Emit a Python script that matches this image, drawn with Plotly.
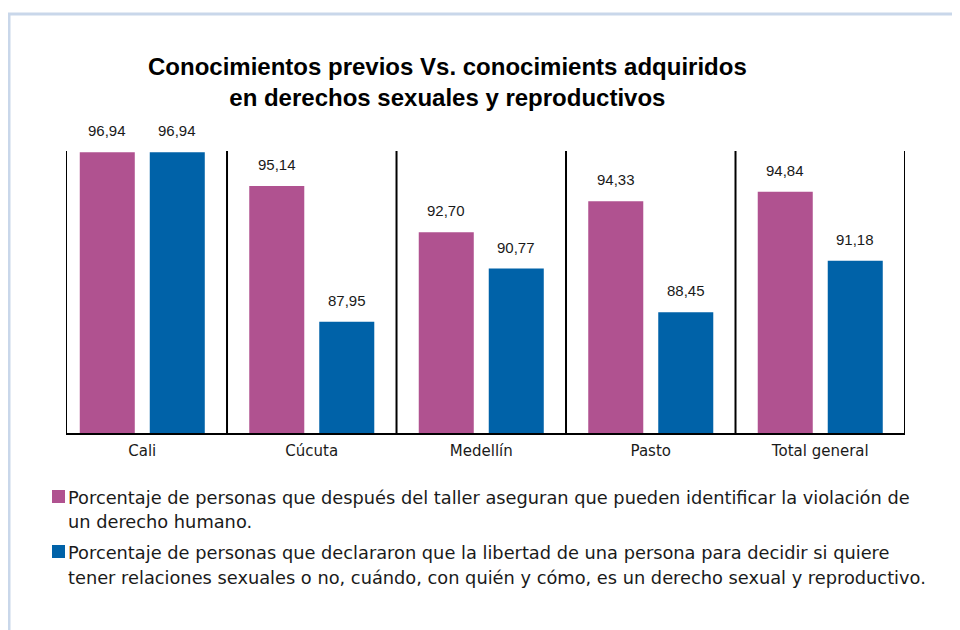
import plotly.graph_objects as go

categories = ["Cali", "Cúcuta", "Medellín", "Pasto", "Total general"]
series_names = [
    "Porcentaje de personas que después del taller aseguran que pueden identificar la violación de|un derecho humano.",
    "Porcentaje de personas que declararon que la libertad de una persona para decidir si quiere|tener relaciones sexuales o no, cuándo, con quién y cómo, es un derecho sexual y reproductivo.",
]
pink_values = [96.94, 95.14, 92.70, 94.33, 94.84]
blue_values = [96.94, 87.95, 90.77, 88.45, 91.18]
colors = ["#B05290", "#0062A8"]
title_text = "Conocimientos previos Vs. conocimients adquiridos<br>en derechos sexuales y reproductivos"

W, H = 960, 630
OFF = 8  # page body margin
L, R, T, B = 66 - OFF, 905 - OFF, 151 - OFF, 434 - OFF
BARGAP = 0.174
BARGROUPGAP = 0.214

LABEL = "Liberation Sans, Arial, sans-serif"
BODY = "DejaVu Sans, Verdana, sans-serif"
TITLE = "Liberation Sans, Arial, sans-serif"

xs = list(range(len(categories)))
fig = go.Figure()
for vals, col, nm in zip([pink_values, blue_values], colors, series_names):
    fig.add_trace(go.Bar(x=xs, y=vals, marker=dict(color=col, line=dict(width=0)),
                         name=nm.replace("|", " "), showlegend=False))

def px_x(p):
    return (p - OFF - L) / (R - L)

def px_y(p):
    return (B - (p - OFF)) / (B - T)

shapes = []
for k in range(len(categories) + 1):
    xv = -0.45 if k == 0 else k - 0.5
    shapes.append(dict(type="line", xref="x", yref="paper", x0=xv, x1=xv, y0=0, y1=1,
                       line=dict(color="black", width=2)))
shapes.append(dict(type="line", xref="paper", yref="paper", x0=0, x1=1, y0=0, y1=0,
                   line=dict(color="black", width=2)))
shapes.append(dict(type="rect", xref="paper", yref="paper",
                   x0=px_x(9), x1=px_x(985), y0=px_y(660), y1=px_y(14),
                   line=dict(color="#C9D7EA", width=3), fillcolor="rgba(0,0,0,0)", layer="below"))

annotations = []
slot = (1 - BARGAP) / 2
for si, vals in enumerate([pink_values, blue_values]):
    off = (si - 0.5) * slot
    for i, v in enumerate(vals):
        annotations.append(dict(x=i + off, y=v, xref="x", yref="y", yanchor="bottom",
                                text=f"{v:.2f}".replace(".", ","), showarrow=False,
                                yshift=11, font=dict(family=LABEL, size=15, color="#1a1a1a")))

legend_rows = [(497, 521), (552, 577)]
for (y1, y2), nm, col in zip(legend_rows, series_names, colors):
    line1, line2 = nm.split("|")
    shapes.append(dict(type="rect", xref="paper", yref="paper",
                       x0=px_x(52), x1=px_x(65), y0=px_y(y1 + 6), y1=px_y(y1 - 7),
                       fillcolor=col, line=dict(width=0)))
    for yy, txt in ((y1, line1), (y2, line2)):
        annotations.append(dict(x=px_x(66), y=px_y(yy), xref="paper", yref="paper",
                                xanchor="left", yanchor="middle", text=txt, showarrow=False,
                                font=dict(family=BODY, size=17.8, color="#1a1a1a")))

fig.update_layout(
    width=W, height=H,
    margin=dict(l=L, r=W - R, t=T, b=H - B, pad=0),
    paper_bgcolor="white", plot_bgcolor="white",
    barmode="group", bargap=BARGAP, bargroupgap=BARGROUPGAP,
    title=dict(text=title_text, x=px_x(450), xanchor="center", y=1 - (75 - OFF) / H, yanchor="middle",
               font=dict(family=TITLE, size=24, color="black", weight="bold")),
    xaxis=dict(range=[-0.45, 4.5], tickmode="array", tickvals=xs, ticktext=categories,
               showgrid=False, zeroline=False, showline=False, ticks="", ticklabelstandoff=6,
               tickfont=dict(family=BODY, size=15, color="#1a1a1a")),
    yaxis=dict(range=[82, 97], visible=False, showgrid=False, zeroline=False),
    shapes=shapes, annotations=annotations, showlegend=False,
)
fig.write_html("out.html")
